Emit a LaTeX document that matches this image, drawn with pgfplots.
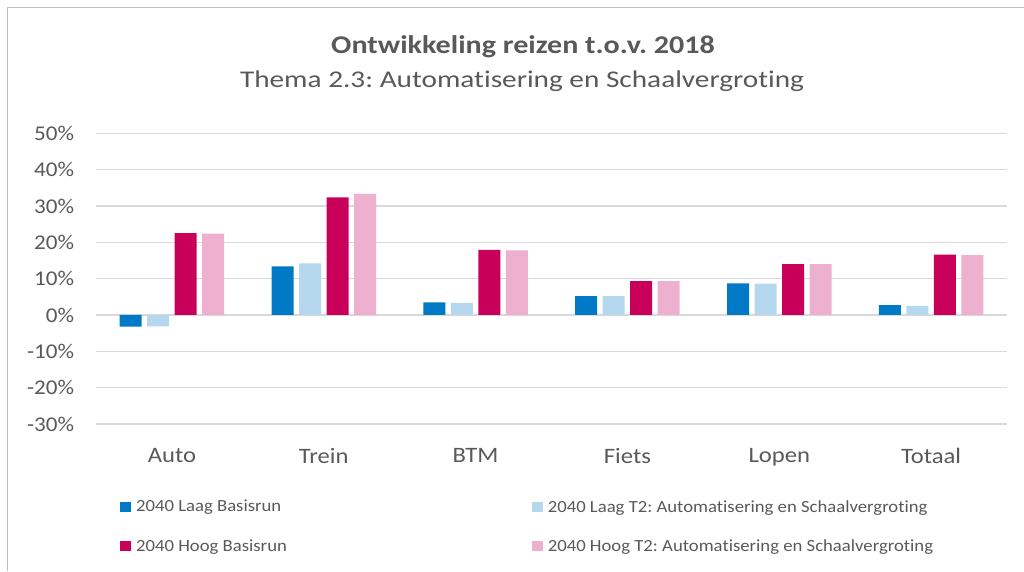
\documentclass[border=0pt]{standalone}
\usepackage{pgfplots}
\pgfplotsset{compat=1.18}
\usepackage{fontspec}
\setmainfont{Carlito}[Ligatures=NoCommon]
\frenchspacing
\definecolor{txt}{HTML}{595959}
\definecolor{gridc}{HTML}{D9D9D9}
\definecolor{framec}{HTML}{BFBFBF}
\definecolor{c1}{HTML}{0079C6}
\definecolor{c2}{HTML}{B5D8EE}
\definecolor{c3}{HTML}{C8005A}
\definecolor{c4}{HTML}{EDB1CF}
\begin{document}
\begin{tikzpicture}
\useasboundingbox (0pt,0pt) rectangle (1024pt,571pt);
\draw[framec, line width=1pt] (7.5pt,0pt) -- (7.5pt,563pt) -- (1024pt,563pt);
\node[text=txt, font=\fontsize{25.5}{30}\selectfont\bfseries, xscale=1.18] at (523pt,524pt) {Ontwikkeling reizen t.o.v. 2018};
\node[text=txt, font=\fontsize{24}{29}\selectfont, xscale=1.22] at (522pt,490pt) {Thema 2.3: Automatisering en Schaalvergroting};
\begin{axis}[
  at={(96pt,147pt)}, anchor=south west,
  scale only axis, width=911pt, height=290.7pt,
  ymin=-30, ymax=50, xmin=-0.5, xmax=5.5,
  ytick={-30,-20,...,50}, xtick={0,...,5},
  xticklabels={Auto,Trein,BTM,Fiets,Lopen,Totaal},
  yticklabel={\pgfmathprintnumber{\tick}\%},
  /pgf/number format/assume math mode=true,
  ybar=5.5pt, bar width=22pt,
  axis line style={draw=none}, major tick length=0pt,
  ymajorgrids, grid style={gridc, line width=1.4pt},
  yticklabel style={font=\fontsize{21}{25}\selectfont, text=txt, xshift=-18pt, xscale=1.1},
  xticklabel style={font=\fontsize{22}{26}\selectfont, text=txt, yshift=-21pt, xscale=1.12},
  legend style={at={(0,0)}, anchor=north west, xshift=24pt, yshift=-74pt,
    draw=none, fill=none, inner sep=0pt, font=\fontsize{17}{20}\selectfont, text=txt,
    row sep=22pt, /tikz/every even column/.append style={column sep=240pt},
    nodes={xscale=1.1, inner xsep=4.5pt}},
  legend columns=2, legend cell align=left,
]
\addplot[fill=c1, draw=none, legend image code/.code={\fill[c1] (0pt,-5pt) rectangle (11pt,5pt);}]
  coordinates {(0,-3.2) (1,13.4) (2,3.5) (3,5.2) (4,8.7) (5,2.7)};
\addplot[fill=c2, draw=none, legend image code/.code={\fill[c2] (0pt,-5pt) rectangle (11pt,5pt);}]
  coordinates {(0,-3.1) (1,14.2) (2,3.3) (3,5.2) (4,8.6) (5,2.5)};
\addplot[fill=c3, draw=none, legend image code/.code={\fill[c3] (0pt,-5pt) rectangle (11pt,5pt);}]
  coordinates {(0,22.5) (1,32.4) (2,17.9) (3,9.3) (4,14.0) (5,16.6)};
\addplot[fill=c4, draw=none, legend image code/.code={\fill[c4] (0pt,-5pt) rectangle (11pt,5pt);}]
  coordinates {(0,22.4) (1,33.3) (2,17.8) (3,9.3) (4,14.0) (5,16.5)};
\legend{2040 Laag Basisrun, 2040 Laag T2: Automatisering en Schaalvergroting, 2040 Hoog Basisrun, 2040 Hoog T2: Automatisering en Schaalvergroting}
\end{axis}
\end{tikzpicture}
\end{document}
